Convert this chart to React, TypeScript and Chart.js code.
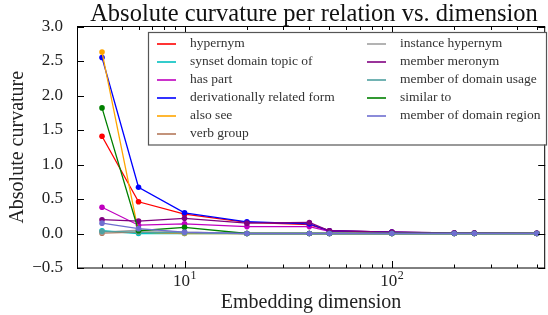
import React, { useEffect, useRef } from "react";
import { Chart, registerables } from "chart.js";

Chart.register(...registerables);

const dimensions = [4, 6, 10, 20, 40, 50, 100, 200, 250, 500];

const relationNames = [
  "hypernym",
  "synset domain topic of",
  "has part",
  "derivationally related form",
  "also see",
  "verb group",
  "instance hypernym",
  "member meronym",
  "member of domain usage",
  "similar to",
  "member of domain region",
];

const relationColors = [
  "#ff0000",
  "#00bfbf",
  "#bf00bf",
  "#0000ff",
  "#ffa500",
  "#b5785a",
  "#a0a0a0",
  "#800080",
  "#4fa0a0",
  "#008000",
  "#6f6fd0",
];

const hypernym = [1.41, 0.46, 0.28, 0.16, 0.13, 0.04, 0.02, 0.008, 0.005, 0.003];
const synsetDomainTopicOf = [0.04, 0.0, 0.0, 0.0, 0.0, 0.0, 0.0, 0.0, 0.0, 0.0];
const hasPart = [0.38, 0.12, 0.14, 0.1, 0.1, 0.03, 0.015, 0.005, 0.004, 0.002];
const derivationallyRelatedForm = [2.55, 0.67, 0.3, 0.17, 0.14, 0.04, 0.02, 0.008, 0.005, 0.003];
const alsoSee = [2.63, 0.02, 0.0, 0.0, 0.0, 0.0, 0.0, 0.0, 0.0, 0.0];
const verbGroup = [0.005, 0.02, 0.01, 0.0, 0.0, 0.0, 0.0, 0.0, 0.0, 0.0];
const instanceHypernym = [0.02, 0.05, 0.02, 0.0, 0.0, 0.0, 0.0, 0.0, 0.0, 0.0];
const memberMeronym = [0.2, 0.18, 0.22, 0.15, 0.16, 0.04, 0.02, 0.006, 0.005, 0.003];
const memberOfDomainUsage = [0.03, 0.02, 0.01, 0.0, 0.0, 0.0, 0.0, 0.0, 0.0, 0.0];
const similarTo = [1.82, 0.04, 0.09, 0.0, 0.0, 0.0, 0.0, 0.0, 0.0, 0.0];
const memberOfDomainRegion = [0.15, 0.07, 0.02, 0.0, 0.0, 0.0, 0.0, 0.0, 0.0, 0.0];

const seriesValues = [
  hypernym,
  synsetDomainTopicOf,
  hasPart,
  derivationallyRelatedForm,
  alsoSee,
  verbGroup,
  instanceHypernym,
  memberMeronym,
  memberOfDomainUsage,
  similarTo,
  memberOfDomainRegion,
];

const yTickValues = [-0.5, 0, 0.5, 1.0, 1.5, 2.0, 2.5, 3.0];
const xMajorTicks = [10, 100];
const xTickBase = "10";
const xTickExponents = ["1", "2"];

const titleText = "Absolute curvature per relation vs. dimension";
const xTitle = "Embedding dimension";
const yTitle = "Absolute curvature";

const FONT = "'Liberation Serif', 'Times New Roman', serif";

const decorPlugin = {
  id: "decor",
  afterDraw(chart: any) {
    const { ctx, chartArea: a, scales } = chart;
    const xs = scales.x;
    const ys = scales.y;
    ctx.save();
    // frame
    ctx.strokeStyle = "#000";
    ctx.lineWidth = 1;
    ctx.strokeRect(a.left + 0.5, a.top, a.right - a.left - 1, a.bottom - a.top);

    // y ticks
    ctx.beginPath();
    for (const v of yTickValues) {
      const py = Math.round(ys.getPixelForValue(v)) + 0.5;
      ctx.moveTo(a.left, py);
      ctx.lineTo(a.left + 7, py);
      ctx.moveTo(a.right, py);
      ctx.lineTo(a.right - 7, py);
    }
    // x ticks
    const xmin = xs.min;
    const xmax = xs.max;
    for (const dec of [1, 10, 100, 1000]) {
      for (let m = 1; m <= 9; m++) {
        const v = m * dec;
        if (v < xmin || v > xmax) continue;
        const len = m === 1 ? 7 : 3.5;
        const px = Math.round(xs.getPixelForValue(v)) + 0.5;
        ctx.moveTo(px, a.bottom);
        ctx.lineTo(px, a.bottom - len);
        ctx.moveTo(px, a.top);
        ctx.lineTo(px, a.top + len);
      }
    }
    ctx.stroke();

    // x tick labels
    ctx.fillStyle = "#222";
    xMajorTicks.forEach((v, i) => {
      const px = xs.getPixelForValue(v);
      ctx.font = `17px ${FONT}`;
      const wBase = ctx.measureText(xTickBase).width;
      ctx.font = `12px ${FONT}`;
      const wExp = ctx.measureText(xTickExponents[i]).width;
      const start = px - (wBase + wExp) / 2;
      ctx.textAlign = "left";
      ctx.textBaseline = "alphabetic";
      ctx.font = `17px ${FONT}`;
      ctx.fillText(xTickBase, start, a.bottom + 18);
      ctx.font = `12px ${FONT}`;
      ctx.fillText(xTickExponents[i], start + wBase + 0.5, a.bottom + 11);
    });

    // axis titles
    ctx.font = `20px ${FONT}`;
    ctx.textAlign = "center";
    ctx.textBaseline = "middle";
    ctx.fillText(xTitle, (a.left + a.right) / 2, 303);
    ctx.save();
    ctx.translate(18, (a.top + a.bottom) / 2);
    ctx.rotate(-Math.PI / 2);
    ctx.fillText(yTitle, 0, 0);
    ctx.restore();

    // title
    ctx.font = `24.5px ${FONT}`;
    ctx.textBaseline = "alphabetic";
    ctx.fillStyle = "#111";
    ctx.fillText(titleText, 314, 21);

    // legend
    const lx = 148;
    const ly = 32;
    const lw = 398;
    const lh = 112.5;
    ctx.fillStyle = "#fff";
    ctx.fillRect(lx, ly, lw, lh);
    ctx.strokeStyle = "#555";
    ctx.lineWidth = 1.2;
    ctx.strokeRect(lx + 0.5, ly + 0.5, lw, lh);
    ctx.font = `13.5px ${FONT}`;
    ctx.textAlign = "left";
    ctx.textBaseline = "middle";
    relationNames.forEach((name, i) => {
      const col = i < 6 ? 0 : 1;
      const row = i < 6 ? i : i - 6;
      const y = 43.5 + row * 18;
      const x0 = col === 0 ? 157 : 367;
      ctx.strokeStyle = relationColors[i];
      ctx.lineWidth = 1.6;
      ctx.beginPath();
      ctx.moveTo(x0, Math.round(y));
      ctx.lineTo(x0 + 19, Math.round(y));
      ctx.stroke();
      ctx.fillStyle = "#333";
      ctx.fillText(name, x0 + 33, y);
    });
    ctx.restore();
  },
};

export default function App() {
  const ref = useRef<HTMLCanvasElement>(null);
  useEffect(() => {
    const canvas = ref.current;
    if (!canvas) return;
    const n = seriesValues.length;
    const datasets = seriesValues.map((vals, i) => ({
      label: relationNames[i],
      data: dimensions.map((d, j) => ({ x: d, y: vals[j] })),
      borderColor: relationColors[i],
      backgroundColor: relationColors[i],
      borderWidth: 1.3,
      pointRadius: 2.8,
      pointBorderWidth: 0,
      pointHoverRadius: 2.8,
      tension: 0,
      order: n - i,
    }));
    const chart = new Chart(canvas, {
      type: "line",
      data: { datasets },
      options: {
        animation: false,
        responsive: false,
        layout: { padding: { top: 26.5, right: 1, left: 0, bottom: 0 } },
        plugins: {
          legend: { display: false },
          tooltip: { enabled: false },
          title: { display: false },
        },
        scales: {
          x: {
            type: "logarithmic",
            min: 3.03,
            max: 549,
            grid: { display: false },
            border: { display: false },
            ticks: { display: false },
            afterFit: (s: any) => {
              s.height = 47;
            },
          },
          y: {
            type: "linear",
            min: -0.5,
            max: 3.0,
            grid: { display: false },
            border: { display: false },
            afterBuildTicks: (s: any) => {
              s.ticks = yTickValues.map((v) => ({ value: v }));
            },
            ticks: {
              font: { family: FONT, size: 17 },
              color: "#222",
              padding: 6,
              callback: (v: any) => {
                const num = Number(v);
                const s = Math.abs(num).toFixed(1);
                return num < 0 ? "\u2212" + s : s;
              },
            },
            afterFit: (s: any) => {
              s.width = 77;
            },
          },
        },
      } as any,
      plugins: [decorPlugin],
    });
    return () => chart.destroy();
  }, []);
  return (
    <div style={{ position: "absolute", left: 0, top: 0, width: 548, height: 315, background: "#fff" }}>
      <canvas ref={ref} width={548} height={315} />
    </div>
  );
}
